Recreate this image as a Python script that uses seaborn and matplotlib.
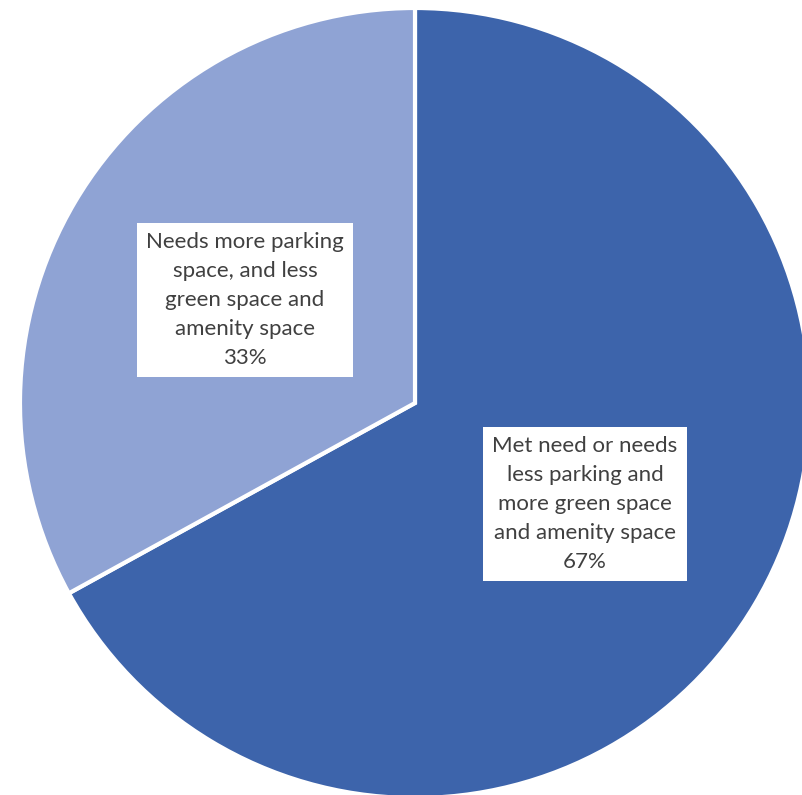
import matplotlib
matplotlib.use("Agg")
import matplotlib.pyplot as plt
import seaborn as sns

categories = [
    "Met need or needs\nless parking and\nmore green space\nand amenity space",
    "Needs more parking\nspace, and less\ngreen space and\namenity space",
]
shares = [67, 33]
colors = ["#3D64AB", "#8FA3D4"]

sns.set_theme(style="white")
plt.rcParams['font.family'] = ['Lato', 'DejaVu Sans']

W, H = 802, 795
fig = plt.figure(figsize=(W / 100, H / 100), dpi=100)
ax = fig.add_axes([0, 0, 1, 1])

wedges, _ = ax.pie(
    shares, colors=colors, startangle=90, counterclock=False,
    center=(415, H - 403), radius=395,
    wedgeprops=dict(edgecolor="white", linewidth=3),
)

# label boxes, placed where the reference puts them
label_pos = [(585, H - 504), (245, H - 300)]
for cat, val, (x, y) in zip(categories, shares, label_pos):
    ax.text(x, y, f"{cat}\n{val}%", ha="center", va="center",
            fontsize=16, color="#404040", linespacing=1.55,
            bbox=dict(boxstyle="square,pad=0.42", fc="white", ec="none"))

ax.set_xlim(0, W)
ax.set_ylim(0, H)
ax.set_aspect("equal")
ax.axis("off")

fig.savefig("out.png", dpi=100)
